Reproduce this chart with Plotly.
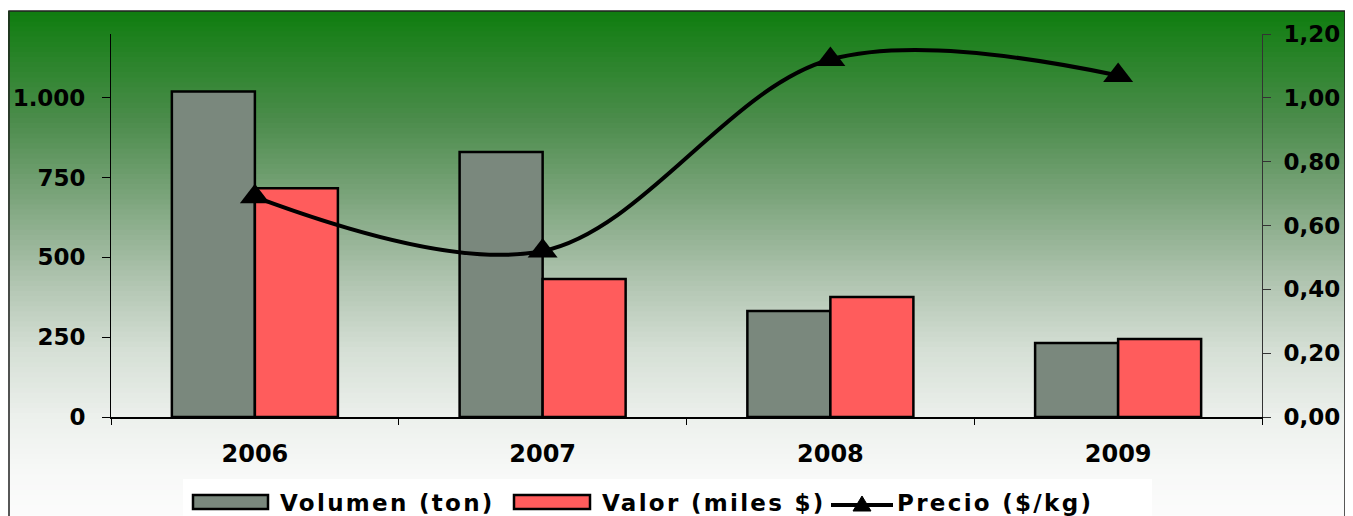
import plotly.graph_objects as go

years = ["2006", "2007", "2008", "2009"]
volumen = [1020, 830, 332, 232]
valor = [717, 432, 376, 244]
precio = [0.69, 0.52, 1.12, 1.07]
left_ticks = [0, 250, 500, 750, 1000]
right_ticks = [0.0, 0.2, 0.4, 0.6, 0.8, 1.0, 1.2]
series_names = ["Volumen (ton)", "Valor (miles $)", "Precio ($/kg)"]

# the page adds an 8px body margin, so figure px = screenshot px - 8
OFF = 8
W, H = 1353 - OFF, 516 - OFF
# plot area in screenshot pixels: x 111..1262, y 34..417
ml, mr, mt, mb = 111 - OFF, W - (1262 - OFF), 34 - OFF, H - (417 - OFF)
pw, ph = W - ml - mr, H - mt - mb

def px_x(x):
    return (x - OFF - ml) / pw

def px_y(y):
    return (H - mb - (y - OFF)) / ph

font_main = "'DejaVu Sans', sans-serif"
vol_color = "#7a887d"
val_color = "#ff5c5c"

fig = go.Figure()
fig.add_trace(go.Bar(
    x=years, y=volumen, name=series_names[0], showlegend=False,
    marker=dict(color=vol_color, line=dict(color="black", width=2.5)),
))
fig.add_trace(go.Bar(
    x=years, y=valor, name=series_names[1], showlegend=False,
    marker=dict(color=val_color, line=dict(color="black", width=2.5)),
))
fig.add_trace(go.Scatter(
    x=years, y=precio, name=series_names[2], yaxis="y2", showlegend=False,
    mode="lines+markers",
    line=dict(color="black", width=4, shape="spline", smoothing=1.0),
    marker=dict(symbol="triangle-up", size=26, color="black"),
))

# background gradient stops (screenshot y px, rgb)
grad_stops = [
    (11, (15, 125, 15)),
    (120, (75, 140, 75)),
    (200, (125, 165, 125)),
    (280, (175, 195, 175)),
    (350, (213, 223, 213)),
    (417, (236, 240, 236)),
    (470, (247, 248, 247)),
    (520, (252, 252, 252)),
]

def grad_color(y):
    for (ya, ca), (yb, cb) in zip(grad_stops[:-1], grad_stops[1:]):
        if ya <= y <= yb:
            t = (y - ya) / (yb - ya)
            return tuple(int(round(ca[k] + (cb[k] - ca[k]) * t)) for k in range(3))
    return grad_stops[-1][1]

shapes = []
top_px, bot_px = 11, 520
n = 100
for i in range(n):
    y_a = top_px + (bot_px - top_px) * i / n
    y_b = top_px + (bot_px - top_px) * (i + 1) / n + 1
    col = grad_color((y_a + y_b) / 2)
    shapes.append(dict(
        type="rect", xref="paper", yref="paper", layer="below",
        x0=px_x(8), x1=px_x(1345), y0=px_y(y_b), y1=px_y(y_a),
        fillcolor="rgb(%d,%d,%d)" % col, line=dict(width=0),
    ))
shapes.append(dict(
    type="rect", xref="paper", yref="paper", layer="above",
    x0=px_x(9), x1=px_x(1345), y0=px_y(530), y1=px_y(11),
    fillcolor="rgba(0,0,0,0)", line=dict(color="#222", width=1.5),
))

# custom legend
annotations = []
shapes.append(dict(
    type="rect", xref="paper", yref="paper", layer="above",
    x0=px_x(183), x1=px_x(1152), y0=px_y(522), y1=px_y(479),
    fillcolor="white", line=dict(width=0),
))
leg_y = 502
for (x0, x1, col) in [(193, 268, vol_color), (514, 590, val_color)]:
    shapes.append(dict(
        type="rect", xref="paper", yref="paper", layer="above",
        x0=px_x(x0), x1=px_x(x1), y0=px_y(leg_y + 7), y1=px_y(leg_y - 7),
        fillcolor=col, line=dict(color="black", width=2.5),
    ))
shapes.append(dict(
    type="line", xref="paper", yref="paper", layer="above",
    x0=px_x(831), x1=px_x(893), y0=px_y(leg_y + 3), y1=px_y(leg_y + 3),
    line=dict(color="black", width=4),
))
shapes.append(dict(
    type="path", xref="paper", yref="paper", layer="above",
    path="M %f %f L %f %f L %f %f Z" % (
        px_x(853), px_y(leg_y + 9), px_x(871), px_y(leg_y + 9), px_x(862), px_y(leg_y - 6)),
    fillcolor="black", line=dict(color="black", width=1),
))
for tx, name in zip([278, 600, 895], series_names):
    annotations.append(dict(
        xref="paper", yref="paper", x=px_x(tx), y=px_y(leg_y + 1),
        xanchor="left", yanchor="middle", showarrow=False,
        text='<span style="letter-spacing:2.3px">%s</span>' % name,
        font=dict(size=23, family=font_main, weight="bold", color="black"),
    ))

fig.update_layout(
    width=W, height=H,
    margin=dict(l=ml, r=mr, t=mt, b=mb, autoexpand=False),
    paper_bgcolor="white",
    plot_bgcolor="rgba(0,0,0,0)",
    separators=",.",
    barmode="group",
    bargap=0.423,
    bargroupgap=0,
    shapes=shapes,
    annotations=annotations,
    font=dict(family=font_main, color="black"),
    showlegend=False,
    xaxis=dict(
        type="category", showgrid=False, showline=True, linecolor="black", linewidth=1.5,
        ticks="outside", tickson="boundaries", ticklen=6, tickcolor="black",
        tickfont=dict(size=24, weight="bold"), zeroline=False, automargin=False,
        ticklabelstandoff=14,
    ),
    yaxis=dict(
        range=[0, 1200], tickvals=left_ticks, tickformat=",d",
        showgrid=False, showline=True, linecolor="black", linewidth=1,
        ticks="outside", ticklen=8, tickcolor="black",
        tickfont=dict(size=23, weight="bold"), zeroline=False, automargin=False,
        ticklabelstandoff=12,
    ),
    yaxis2=dict(
        range=[0, 1.2], tickvals=right_ticks, tickformat=".2f",
        overlaying="y", side="right",
        showgrid=False, showline=True, linecolor="#333", linewidth=1,
        ticks="outside", ticklen=8, tickcolor="#333",
        tickfont=dict(size=23, weight="bold"), zeroline=False, automargin=False,
        ticklabelstandoff=8,
    ),
)

fig.write_html("out.html")
